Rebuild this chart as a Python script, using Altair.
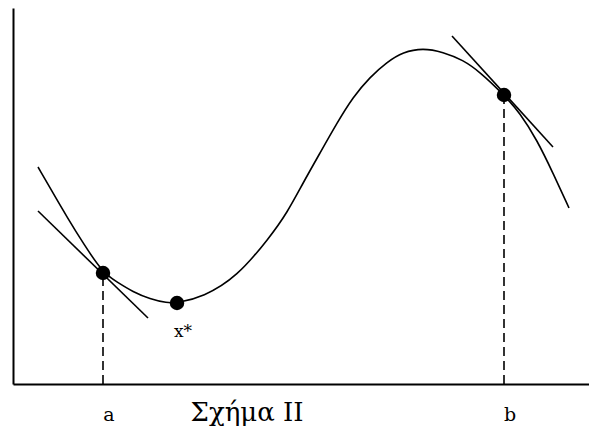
import altair as alt
import pandas as pd

# curve samples
curve_x = [2.5, 4.0, 5.4, 7.0, 9.0, 10.4, 12.0, 13.7, 15.4, 16.4, 19.0, 22.4, 25.7, 27.4,
           29.0, 30.7, 32.4, 34.0, 35.7, 37.4, 39.0, 41.0, 43.0, 45.0, 46.7, 49.1, 50.7,
           52.4, 54.0, 55.6]
curve_y = [21.7, 19.1, 16.7, 14.1, 11.1, 10.2, 9.2, 8.5, 8.1, 8.1, 8.7, 10.7, 14.7, 17.1,
           20.1, 23.1, 26.1, 28.7, 30.7, 32.2, 33.2, 33.6, 33.2, 32.4, 31.2, 28.9, 27.1,
           24.4, 21.1, 17.6]

# marked points: a, x*, b
pt_name = ["a", "x*", "b"]
pt_x = [9.0, 16.4, 49.1]
pt_y = [11.1, 8.1, 28.9]

# tangent segments at a and b
tan_id = ["a", "a", "b", "b"]
tan_x = [2.5, 13.5, 43.9, 54.0]
tan_y = [17.3, 6.6, 34.8, 23.7]

# dashed drop lines
drop_x = [9.0, 49.1]
drop_top = [11.1, 28.9]

# labels
lab_text = ["a", "b"]
lab_x = [9.6, 49.7]
lab_y = [-3.7, -3.7]
star_text = ["x*"]
star_x = [16.1]
star_y = [4.7]
title_text = ["Σχήμα II"]
title_x = [23.4]
title_y = [-3.7]

XMAX, YMAX = 57.6, 37.6
xs = alt.Scale(domain=[0, XMAX], nice=False, zero=False)
ys = alt.Scale(domain=[0, YMAX], nice=False, zero=False)
ax = alt.Axis(domain=True, domainColor="black", domainWidth=2, ticks=False,
              labels=False, grid=False, title=None)

curve_df = pd.DataFrame({"x": curve_x, "y": curve_y, "o": range(len(curve_x))})
pts_df = pd.DataFrame({"name": pt_name, "x": pt_x, "y": pt_y})
tan_df = pd.DataFrame({"id": tan_id, "x": tan_x, "y": tan_y})
drop_df = pd.DataFrame({"x": drop_x, "y": [0, 0], "y2": drop_top})
lab_df = pd.DataFrame({"t": lab_text, "x": lab_x, "y": lab_y})
star_df = pd.DataFrame({"t": star_text, "x": star_x, "y": star_y})
title_df = pd.DataFrame({"t": title_text, "x": title_x, "y": title_y})

X = lambda: alt.X("x:Q", scale=xs, axis=ax)
Y = lambda: alt.Y("y:Q", scale=ys, axis=ax)

curve = alt.Chart(curve_df).mark_line(color="black", strokeWidth=1.6, interpolate="basis").encode(
    x=X(), y=Y(), order="o:Q")
tangents = alt.Chart(tan_df).mark_line(color="black", strokeWidth=1.6).encode(
    x=X(), y=Y(), detail="id:N")
drops = alt.Chart(drop_df).mark_rule(color="black", strokeWidth=1.6, strokeDash=[9, 5]).encode(
    x=X(), y=Y(), y2="y2:Q")
points = alt.Chart(pts_df).mark_circle(color="black", opacity=1, size=210).encode(x=X(), y=Y())
labels = alt.Chart(lab_df).mark_text(font="DejaVu Serif", fontSize=19, color="black",
                                     align="center", baseline="alphabetic").encode(
    x=X(), y=Y(), text="t:N")
star = alt.Chart(star_df).mark_text(font="DejaVu Serif", fontSize=17, color="black",
                                    align="left", baseline="alphabetic").encode(
    x=X(), y=Y(), text="t:N")
title = alt.Chart(title_df).mark_text(font="DejaVu Serif", fontSize=26, color="black",
                                      align="center", baseline="alphabetic").encode(
    x=X(), y=Y(), text="t:N")

chart = alt.layer(drops, curve, tangents, points, labels, star, title).properties(
    width=576, height=376,
    padding={"left": 5, "top": 0, "right": 0, "bottom": 5},
    background="white",
).configure_view(stroke=None)

chart.save("out.html", embed_options={"renderer": "svg", "actions": False})
